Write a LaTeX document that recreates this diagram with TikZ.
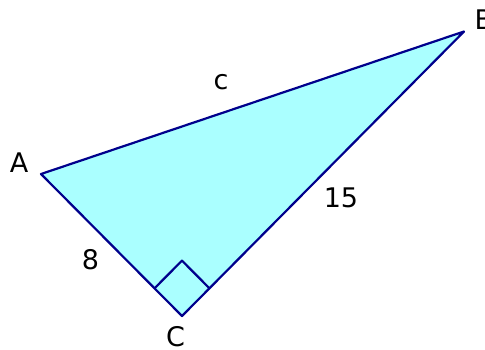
\documentclass[tikz,border=0pt]{standalone}
\usepackage{fontspec}
\setmainfont{DejaVu Sans}
\usetikzlibrary{calc}
\definecolor{edgeblue}{RGB}{0,0,140}
\definecolor{trifill}{RGB}{170,255,255}
\begin{document}
\begin{tikzpicture}[x=1pt,y=-1pt,
  edge/.style={draw=edgeblue,line width=2.2pt,line join=round},
  lbl/.style={inner sep=0pt,font=\fontsize{27}{30}\selectfont}]
\useasboundingbox (0,0) rectangle (485,349);
\coordinate (A) at (41,174);
\coordinate (B) at (464,31.5);
\coordinate (C) at (182,316);
\path[edge,fill=trifill] (A) -- (B) -- (C) -- cycle;
\coordinate (P) at ($(C)!39pt!(A)$);
\coordinate (Q) at ($(C)!39pt!(B)$);
\coordinate (R) at ($(P)+(Q)-(C)$);
\draw[edge] (P) -- (R) -- (Q);
\node[lbl] (la) at (19,162.5) {A};
\node[lbl,anchor=west] (lb) at (474.5,19.5) {B};
\node[lbl] (lcc) at (175.5,336.5) {C};
\node[lbl] (lc) at (221,82) {c};
\node[lbl] (l15) at (341,197.5) {15};
\node[lbl] (l8) at (90.5,259.5) {8};
\end{tikzpicture}
\end{document}
